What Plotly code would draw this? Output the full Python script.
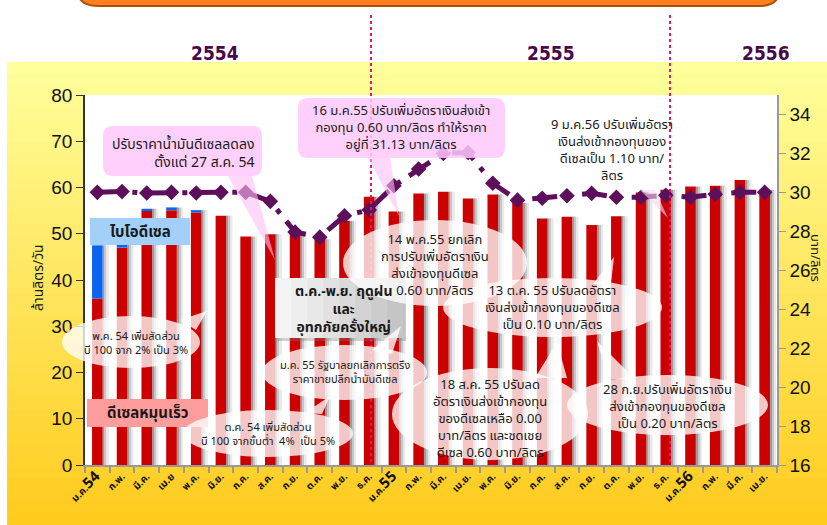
import plotly.graph_objects as go
import numpy as np

# ---------------- data ----------------
months = ["ม.ค.54", "ก.พ.", "มี.ค.", "เม.ย", "พ.ค.", "มิ.ย.", "ก.ค.", "ส.ค.", "ก.ย.", "ต.ค.", "พ.ย.", "ธ.ค.",
          "ม.ค.55", "ก.พ.", "มี.ค.", "เม.ย.", "พ.ค.", "มิ.ย.", "ก.ค.", "ส.ค.", "ก.ย.", "ต.ค.", "พ.ย.", "ธ.ค.",
          "ม.ค.56", "ก.พ.", "มี.ค.", "เม.ย."]
diesel = [36.0, 47.0, 54.9, 55.1, 54.6, 53.9, 49.4, 49.9, 50.5, 48.8, 52.8, 58.0,
          54.8, 58.7, 59.1, 57.6, 58.5, 56.7, 53.3, 53.7, 51.9, 53.8, 58.9, 59.5,
          60.2, 60.4, 61.6, 59.5]
biodiesel = [11.5, 0.6, 0.5, 0.6, 0.5, 0, 0, 0, 0, 0, 0, 0,
             0, 0, 0, 0, 0, 0, 0, 0, 0, 0, 0, 0,
             0, 0, 0, 0]
price = [30.0, 30.04, 29.97, 30.0, 29.97, 30.0, 30.0, 29.54, 27.96, 27.7, 28.8, 29.1,
         30.34, 31.2, 32.0, 32.05, 30.47, 29.6, 29.7, 29.83, 29.95, 29.75, 29.75, 29.85,
         29.75, 29.9, 30.0, 30.0]
years = ["2554", "2555", "2556"]
y_left_title = "ล้านลิตร/วัน"
y_right_title = "บาท/ลิตร"

# ---------------- helpers (page pixel -> paper) ----------------
FW, FH = 827, 525
L, R, T, B = 85, 777, 95, 465
def px(x): return (x - L) / (R - L)
def py(y): return (B - y) / (B - T)
def poly(pts):
    return "M " + " L ".join(f"{px(a):.5f},{py(b):.5f}" for a, b in pts) + " Z"
def rrect(x0, y0, x1, y1, r):
    P = lambda a, b: f"{px(a):.5f},{py(b):.5f}"
    return (f"M {P(x0+r,y0)} L {P(x1-r,y0)} Q {P(x1,y0)} {P(x1,y0+r)} L {P(x1,y1-r)} "
            f"Q {P(x1,y1)} {P(x1-r,y1)} L {P(x0+r,y1)} Q {P(x0,y1)} {P(x0,y1-r)} "
            f"L {P(x0,y0+r)} Q {P(x0,y0)} {P(x0+r,y0)} Z")

TH = "Tahoma, 'Noto Sans Thai', 'Leelawadee UI', 'DejaVu Sans', sans-serif"
NUM = "'Liberation Sans', Arial, sans-serif"
PURPLE = "#5E0F5C"

x = list(range(len(months)))
totals = [d + b for d, b in zip(diesel, biodiesel)]

fig = go.Figure()
for off, w, col in [(0.215, 0.09, "#9c9c9c"), (0.305, 0.08, "#c6c6c6"), (0.385, 0.08, "#e9e9e9")]:
    fig.add_bar(x=x, y=totals, offset=off, width=w, marker=dict(color=col, line_width=0),
                hoverinfo="skip", showlegend=False)
fig.add_bar(x=x, y=diesel, offset=-0.215, width=0.43, name="ดีเซลหมุนเร็ว",
            marker=dict(color="#CC0000", line_width=0))
fig.add_bar(x=x, y=biodiesel, base=diesel, offset=-0.215, width=0.43, name="ไบโอดีเซล",
            marker=dict(color="#0A64F0", line_width=0))
fig.add_scatter(x=x, y=price, yaxis="y2", mode="lines+markers", name="ราคา",
                line=dict(color=PURPLE, width=5, dash="longdashdot"),
                marker=dict(symbol="diamond", size=12, color=PURPLE))

shapes = []
top_c = np.array([255, 255, 156]); bot_c = np.array([255, 204, 30])
n = 40
ys = np.linspace(62, 525, n + 1)
for i in range(n):
    c = top_c + (bot_c - top_c) * (i / (n - 1))
    shapes.append(dict(type="rect", xref="paper", yref="paper", layer="below",
                       x0=px(7), x1=px(830), y0=py(ys[i]), y1=py(ys[i + 1] + 1),
                       fillcolor=f"rgb({int(c[0])},{int(c[1])},{int(c[2])})", line_width=0))
shapes.append(dict(type="rect", xref="paper", yref="paper", layer="below",
                   x0=0, x1=1, y0=0, y1=1, fillcolor="white", line_width=0))
P = lambda a, b: f"{px(a):.5f},{py(b):.5f}"
shapes.append(dict(type="path", xref="paper", yref="paper", layer="above",
                   path=f"M {P(77,-16)} L {P(77,-12)} Q {P(77,6)} {P(98,6)} L {P(759,6)} Q {P(780,6)} {P(780,-12)} L {P(780,-16)} Z",
                   fillcolor="#FF7F1E", line=dict(color="#A8520E", width=2)))
for xp in [371, 670]:
    shapes.append(dict(type="line", xref="paper", yref="paper", layer="above",
                       x0=px(xp), x1=px(xp), y0=py(15), y1=py(465),
                       line=dict(color="#E0186A", width=2, dash="dot")))

PINK = "rgba(255,200,250,0.85)"
PINK_T = "rgba(255,190,245,0.6)"
WHITE_E = "rgba(255,255,255,0.78)"
def add_shape(**k):
    k.setdefault("xref", "paper"); k.setdefault("yref", "paper"); k.setdefault("layer", "above")
    k.setdefault("line", dict(width=0))
    shapes.append(k)

add_shape(type="path", path=rrect(103, 126, 262, 176, 10), fillcolor=PINK)
add_shape(type="path", path=poly([(228, 176), (252, 176), (275, 260)]), fillcolor=PINK_T)
add_shape(type="path", path=rrect(298, 98, 505, 158, 10), fillcolor=PINK)
add_shape(type="path", path=poly([(368, 158), (390, 158), (399, 216)]), fillcolor=PINK_T)
add_shape(type="path", path=poly([(640, 190), (655, 190), (668, 218)]), fillcolor="rgba(245,215,240,0.6)")
add_shape(type="rect", x0=px(90), x1=px(190), y0=py(245), y1=py(218), fillcolor="#A3D0F8")
add_shape(type="rect", x0=px(87), x1=px(208), y0=py(427), y1=py(399), fillcolor="#FF9C9C")
gx = np.linspace(275, 403, 9)
gcols = ["#F4F4F4", "#EEEEEE", "#E8E8E8", "#E1E1E1", "#DADADA", "#D3D3D3", "#CCCCCC", "#C5C5C5"]
add_shape(type="rect", x0=px(277), x1=px(406), y0=py(341), y1=py(280), fillcolor="rgba(120,120,120,0.35)")
for i in range(8):
    add_shape(type="rect", x0=px(gx[i]), x1=px(gx[i + 1] + 0.5), y0=py(338), y1=py(278), fillcolor=gcols[i])

ellipses = [
    ((62, 316, 200, 368), [(180, 320), (196, 330), (207, 311)]),
    ((262, 345, 427, 400), [(372, 350), (392, 354), (401, 326)]),
    ((183, 410, 353, 457), [(305, 413), (322, 414), (330, 396)]),
    ((343, 220, 527, 306), None),
    ((443, 278, 662, 337), [(593, 284), (611, 284), (614, 257)]),
    ((392, 368, 588, 460), [(535, 378), (567, 378), (557, 342)]),
    ((567, 375, 768, 435), [(609, 380), (634, 378), (597, 341)]),
]
for (x0, y0, x1, y1), tail in ellipses:
    add_shape(type="circle", x0=px(x0), x1=px(x1), y0=py(y1), y1=py(y0), fillcolor=WHITE_E)
    if tail:
        add_shape(type="path", path=poly(tail), fillcolor=WHITE_E)

ann = []
def text(t, cx, cy, size=13, color="#1a1a1a", bold=False, align="center", xanchor="center", angle=0, family=TH):
    if bold:
        t = "<b>" + t.replace("<br>", "</b><br><b>") + "</b>"
    ann.append(dict(text=t, x=px(cx), y=py(cy), xref="paper", yref="paper", showarrow=False,
                    font=dict(size=size, color=color, family=family), align=align,
                    xanchor=xanchor, yanchor="middle", textangle=angle))

text("ปรับราคาน้ำมันดีเซลลดลง<br>ตั้งแต่ 27 ส.ค. 54", 257, 153, size=14, align="right", xanchor="right")
text("16 ม.ค.55 ปรับเพิ่มอัตราเงินส่งเข้า<br>กองทุน 0.60 บาท/ลิตร ทำให้ราคา<br>อยู่ที่ 31.13 บาท/ลิตร", 401, 128, size=13)
text("9 ม.ค.56 ปรับเพิ่มอัตรา<br>เงินส่งเข้ากองทุนของ<br>ดีเซลเป็น 1.10 บาท/<br>ลิตร", 612, 150, size=13)
text("ไบโอดีเซล", 140, 232, size=15, bold=True)
text("ดีเซลหมุนเร็ว", 147, 413, size=15, bold=True)
text("ต.ค.-พ.ย. ฤดูฝน<br>และ<br>อุทกภัยครั้งใหญ่", 343, 309, size=14, bold=True)
text("พ.ค. 54 เพิ่มสัดส่วน<br>บี 100 จาก 2% เป็น 3%", 136, 343, size=11)
text("ม.ค. 55 รัฐบาลยกเลิกการตรึง<br>ราคาขายปลีกน้ำมันดีเซล", 345, 372, size=11)
text("ต.ค. 54 เพิ่มสัดส่วน<br>บี 100 จากขั้นต่ำ  4%  เป็น 5%", 268, 434, size=11)
text("14 พ.ค.55 ยกเลิก<br>การปรับเพิ่มอัตราเงิน<br>ส่งเข้าองทุนดีเซล<br>0.60 บาท/ลิตร", 435, 265, size=13)
text("13 ต.ค. 55 ปรับลดอัตรา<br>เงินส่งเข้ากองทุนของดีเซล<br>เป็น 0.10 บาท/ลิตร", 552, 308, size=13)
text("18 ส.ค. 55 ปรับลด<br>อัตราเงินส่งเข้ากองทุน<br>ของดีเซลเหลือ 0.00<br>บาท/ลิตร และชดเชย<br>ดีเซล 0.60 บาท/ลิตร", 490, 419, size=13)
text("28 ก.ย.ปรับเพิ่มอัตราเงิน<br>ส่งเข้ากองทุนของดีเซล<br>เป็น 0.20 บาท/ลิตร", 667, 407, size=13)
text(y_left_title, 38, 278, size=14, angle=-90)
text(y_right_title, 815, 258, size=13, angle=90)
for yr, cx in zip(years, [215, 551, 766]):
    text(yr, cx, 53, size=19, color="#4A0A4A", bold=True,
         family="'Liberation Sans Narrow', 'DejaVu Sans Condensed', Arial, sans-serif")

def ticklabel(m):
    for yy in ["54", "55", "56"]:
        if m.endswith(yy) and m.startswith("ม.ค."):
            return f"<b>{m[:-2]}<span style='font-size:15px'>{yy}</span></b>"
    return f"<b>{m}</b>"

fig.update_layout(
    width=FW, height=FH,
    margin=dict(l=L, r=FW - R, t=T, b=FH - B),
    paper_bgcolor="white", plot_bgcolor="white",
    barmode="overlay", showlegend=False,
    shapes=shapes, annotations=ann,
    xaxis=dict(range=[-0.5, 27.5], tickmode="array", tickvals=x, ticktext=[ticklabel(m) for m in months],
               tickangle=-45, ticks="", showgrid=False, zeroline=False, showline=True,
               linecolor="#999999", linewidth=1.5,
               tickfont=dict(size=10, family=TH, color="#111"),
               minor=dict(tickmode="array", tickvals=[i - 0.5 for i in range(29)], ticks="outside",
                          ticklen=6, tickcolor="#999999", tickwidth=1.5, showgrid=False)),
    yaxis=dict(range=[0, 80], dtick=10, ticks="outside", ticklen=7, tickcolor="#333", showgrid=False,
               zeroline=False, showline=True, linecolor="#333", linewidth=1.5,
               tickfont=dict(size=19, family=NUM, color="#111")),
    yaxis2=dict(range=[16, 35], tickmode="array", tickvals=list(range(16, 35, 2)), overlaying="y",
                side="right", ticks="outside", ticklen=7, tickcolor="#999", showgrid=False,
                zeroline=False, showline=True, linecolor="#999", linewidth=1.5,
                tickfont=dict(size=19, family=NUM, color="#111")),
)
fig.write_html("out.html", config={"displayModeBar": False},
               post_script="document.body.style.margin='0px';")
